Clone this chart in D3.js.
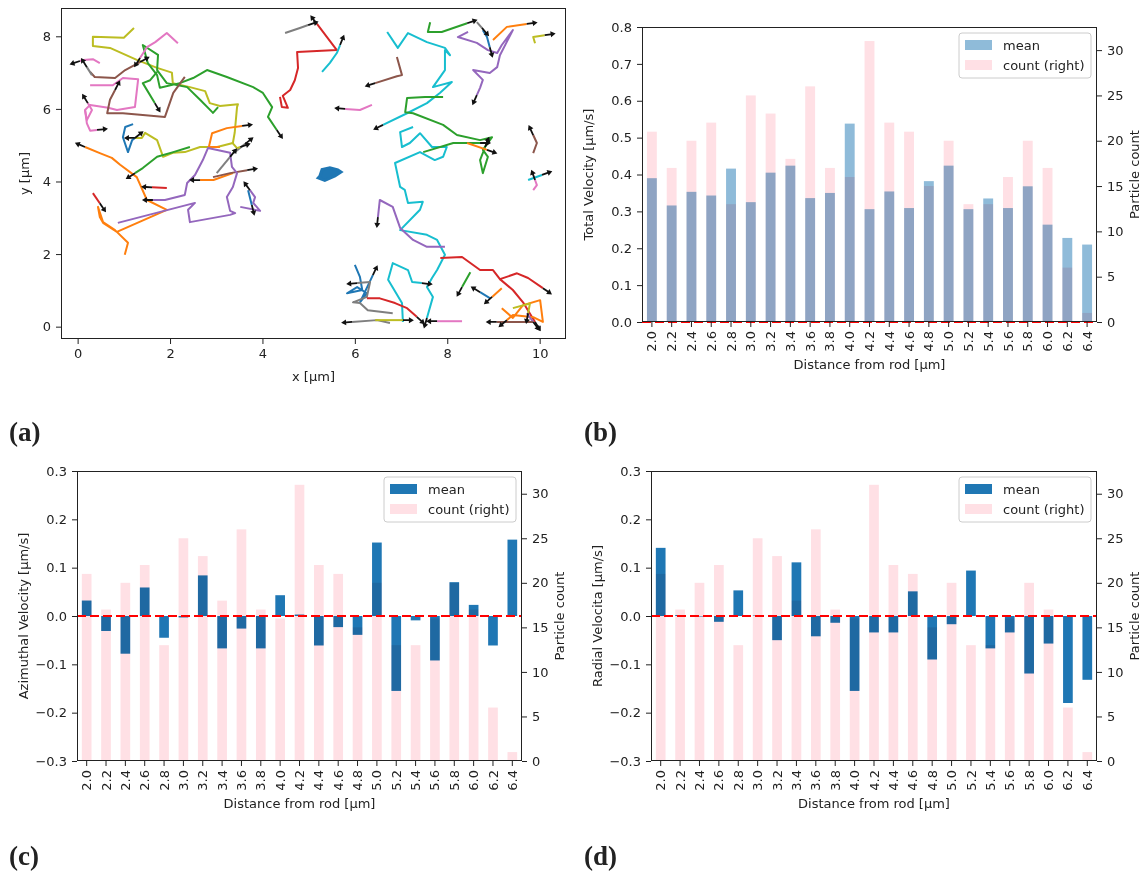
<!DOCTYPE html>
<html>
<head>
<meta charset="utf-8">
<script src="https://cdn.jsdelivr.net/npm/d3@7"></script>
<style>
body { margin: 0; background: #fff; }
svg text { font-family: "DejaVu Sans", sans-serif; fill: #222; }
</style>
</head>
<body>
<svg id="fig" width="1143" height="874"></svg>
<script>
// ---- data ----
const distances = ["2.0","2.2","2.4","2.6","2.8","3.0","3.2","3.4","3.6","3.8","4.0","4.2",
                   "4.4","4.6","4.8","5.0","5.2","5.4","5.6","5.8","6.0","6.2","6.4"];
const particleCount = [21,17,20,22,13,25,23,18,26,17,16,31,22,21,15,20,13,13,16,20,17,6,1];
const totalVelocity = [0.39,0.316,0.353,0.343,0.416,0.325,0.405,0.424,0.336,0.35,0.538,0.306,
                       0.354,0.309,0.382,0.424,0.306,0.335,0.309,0.368,0.264,0.228,0.21];
const azimuthalVelocity = [0.032,-0.031,-0.078,0.059,-0.045,-0.003,0.084,-0.067,-0.026,-0.067,0.043,0.003,
                           -0.061,-0.023,-0.039,0.152,-0.155,-0.009,-0.092,0.070,0.023,-0.061,0.158];
const radialVelocity = [0.141,0.002,-0.001,-0.012,0.053,0.001,-0.05,0.111,-0.042,-0.014,-0.155,-0.034,
                        -0.034,0.051,-0.09,-0.017,0.094,-0.067,-0.034,-0.119,-0.057,-0.18,-0.132];

// particle trajectories [x, y] in µm, and the tab10 colour index of each
const trajectories = [
  [[1.22,8.23],[1.00,7.96],[0.33,7.99],[0.33,7.73],[0.70,7.68],[1.28,7.35],[1.72,7.13],[2.04,7.0],[2.06,6.71],[2.43,6.6],[2.76,6.49],[2.86,6.16],[3.08,6.08],[3.47,6.13],[3.45,6.05],[3.40,5.35],[3.36,5.06],[3.02,4.95],[2.65,4.95],[2.32,4.81],[2.06,4.79],[1.85,4.68],[1.72,5.14],[1.46,5.34],[1.39,5.2],[1.24,5.2]],
  [[3.04,6.05],[2.93,5.89],[2.65,6.25],[2.37,6.60],[1.93,6.71],[1.72,7.07],[1.74,7.49],[1.41,7.76],[1.52,7.26],[1.72,6.93],[1.78,6.58],[2.21,6.71],[2.50,6.85],[2.80,7.07],[3.23,6.88],[3.80,6.60],[4.01,6.44],[4.21,6.05],[4.12,5.78],[4.31,5.42]],
  [[1.72,7.02],[1.57,6.79],[1.41,6.71],[1.67,6.16]],
  [[2.43,4.95],[2.07,4.81],[1.72,4.68],[1.41,4.37],[1.24,4.23]],
  [[2.17,7.81],[1.93,8.09],[1.68,7.84],[1.50,7.70],[1.35,7.40]],
  [[0.48,7.26],[0.33,7.37],[0.12,7.35],[0.05,7.32]],
  [[0.27,6.65],[0.76,6.65],[0.98,6.85],[1.31,6.82],[1.24,6.05],[0.85,5.97],[0.66,6.03],[0.27,6.11],[0.16,5.97],[0.20,5.69],[0.31,5.97],[0.22,6.16]],
  [[0.16,5.97],[0.20,5.60],[0.27,5.40],[0.42,5.42]],
  [[0.27,7.02],[0.37,6.88],[0.81,6.85],[1.03,7.07],[1.35,7.29]],
  [[2.32,6.88],[2.07,6.44],[1.89,5.78],[1.41,5.83],[0.98,5.88],[0.64,5.88],[0.70,6.25],[0.81,6.52]],
  [[1.20,5.58],[1.03,5.50],[0.98,5.22],[1.09,4.81],[1.18,5.14],[1.24,5.20]],
  [[1.02,1.98],[1.09,2.31],[0.81,2.66],[0.55,2.88],[0.44,3.30],[0.48,3.02],[0.55,2.86],[0.85,2.61],[1.93,3.22],[1.50,3.49],[1.28,4.12],[0.92,4.46],[0.74,4.65],[0.48,4.78],[0.16,4.95]],
  [[0.33,3.68],[0.48,3.40]],
  [[3.08,4.95],[2.84,4.95],[2.91,5.33],[3.23,5.47],[3.56,5.53]],
  [[3.36,4.23],[2.94,4.04],[2.65,4.04]],
  [[2.93,4.12],[3.30,4.23],[3.67,4.31]],
  [[3.37,4.78],[3.62,5.03]],
  [[3.01,4.23],[3.30,4.68]],
  [[3.34,5.08],[3.45,4.92],[3.52,4.95]],
  [[0.87,2.86],[2.54,3.41],[2.39,3.22],[2.43,2.88],[3.30,3.08],[3.41,3.13],[3.30,3.19],[3.23,3.57],[3.36,3.85],[3.45,4.23],[3.34,4.40],[3.30,4.79],[2.82,4.92],[2.71,4.59],[2.54,4.18],[2.37,3.96],[2.32,3.63],[1.89,3.49],[1.63,3.49]],
  [[3.52,3.30],[3.95,3.19],[3.80,3.41],[3.84,3.57],[3.73,3.76]],
  [[3.69,3.76],[3.77,3.35]],
  [[1.93,3.82],[1.61,3.84]],
  [[0.31,6.93],[0.20,7.15]],
  [[4.49,8.09],[4.81,8.23],[4.99,8.31]],
  [[4.38,6.33],[4.42,6.05],[4.55,6.03],[4.44,6.36],[4.60,6.52],[4.70,6.79],[4.77,7.13],[4.75,7.57],[5.61,7.62],[5.18,8.34]],
  [[5.29,7.02],[5.46,7.27],[5.61,7.54],[5.68,7.76]],
  [[6.91,7.43],[7.02,6.93],[6.91,6.90],[6.44,6.71]],
  [[6.37,6.11],[6.11,5.97],[5.79,6.00]],
  [[6.70,8.12],[6.93,7.68],[7.15,8.09],[7.56,7.84],[7.95,7.68],[8.06,7.48],[7.95,7.62],[7.95,7.07],[7.69,6.60],[8.10,6.74],[7.84,6.44],[7.56,6.16],[7.13,5.88],[6.61,5.56]],
  [[7.26,5.50],[6.98,5.36],[7.02,4.95],[7.19,5.06],[7.41,5.33],[7.67,4.95],[7.99,4.95],[7.91,4.68],[7.73,4.59],[7.41,4.81],[6.87,4.51],[6.98,3.85],[7.08,3.77],[7.15,3.41],[7.47,3.44],[7.41,3.22],[6.98,2.66],[7.56,2.53],[7.78,2.39],[7.95,1.98],[7.78,1.56],[7.67,1.34],[7.56,1.09],[7.69,0.82],[7.56,0.24]],
  [[7.04,0.13],[7.02,0.65],[6.72,1.29],[6.82,1.75],[7.15,1.56],[7.24,1.23],[7.45,1.20]],
  [[7.63,8.39],[7.58,8.12],[7.88,8.12],[8.43,8.36]],
  [[7.91,6.33],[7.52,6.33],[7.13,6.30],[7.09,5.91],[7.26,5.88],[7.91,5.56],[8.21,5.28],[8.71,5.14],[8.97,5.22],[8.77,4.87],[8.88,4.68],[8.77,4.23],[8.71,4.59],[8.82,4.95]],
  [[7.48,4.81],[8.13,5.06],[8.71,5.06]],
  [[8.43,5.06],[8.86,4.87]],
  [[8.45,8.12],[8.23,7.98],[8.64,7.82],[8.88,7.62],[9.08,7.54],[9.18,7.76],[9.42,8.17],[9.14,7.48],[9.08,7.15],[8.92,6.99],[8.56,7.07],[8.77,6.80],[8.71,6.58],[8.64,6.38]],
  [[8.99,7.90],[9.29,8.26],[9.72,8.34]],
  [[8.77,8.17],[8.86,7.98],[8.92,7.70]],
  [[8.64,8.39],[8.75,8.23]],
  [[9.90,7.81],[9.86,7.98],[10.11,8.03]],
  [[9.86,4.78],[9.94,5.06],[9.86,5.28]],
  [[9.75,4.04],[10.05,4.18]],
  [[9.86,3.76],[9.94,3.90],[9.90,4.04]],
  [[7.95,2.20],[7.56,2.20],[7.26,2.39],[6.98,2.72],[6.82,3.30],[6.54,3.49],[6.50,3.02]],
  [[7.85,1.89],[8.32,1.92],[8.71,1.56],[8.99,1.56],[9.14,1.31],[9.51,1.47],[9.75,1.34],[10.07,1.06]],
  [[9.14,1.31],[9.42,1.01],[9.64,0.67],[9.90,0.13]],
  [[8.50,1.50],[8.32,1.09]],
  [[9.18,1.06],[8.97,0.82]],
  [[8.93,0.78],[8.71,0.95]],
  [[9.18,0.51],[9.42,0.24],[9.64,0.59],[10.01,0.73],[10.07,0.13],[9.86,0.26],[9.42,0.32],[9.29,0.18]],
  [[9.42,0.51],[9.79,0.64],[9.75,0.37]],
  [[9.72,0.37],[9.86,0.13]],
  [[9.86,0.13],[9.07,0.13]],
  [[8.32,0.15],[7.78,0.15]],
  [[6.00,1.70],[6.11,1.37],[6.16,1.01],[5.83,0.92],[6.05,1.09],[6.26,0.92],[6.11,0.67],[6.39,1.42]],
  [[6.82,0.37],[6.28,0.45],[6.11,0.65],[5.96,0.67],[6.26,0.82],[6.33,1.23],[6.05,1.20]],
  [[6.76,0.10],[6.48,0.18],[5.94,0.13]],
  [[6.26,0.78],[6.54,0.78],[6.87,0.65],[7.13,0.51],[7.34,0.27]],
  [[6.44,0.18],[7.04,0.18]]
];
const trajectoryColor = [8,2,2,2,6,6,6,6,5,5,0,1,3,1,1,5,7,7,8,4,4,0,3,7,
                         7,3,9,5,6,9,9,9,2,2,2,1,4,1,0,7,8,5,9,6,4,3,3,2,1,0,1,8,4,5,6,0,7,7,3,8];
// the particle stuck near the rod (blue blob)
const stuckParticle = [[5.24,4.14],[5.29,4.33],[5.46,4.38],[5.63,4.32],[5.70,4.26],[5.57,4.15],[5.35,4.03],[5.21,4.10]];

const xTicksA = [0,2,4,6,8,10];
const yTicksA = [0,2,4,6,8];
const countTicks = [0,5,10,15,20,25,30];

const tab10 = d3.schemeCategory10;
const svg = d3.select("#fig");
const FONT = 13;

// style a d3 axis group the matplotlib way
function styleAxis(g) {
    g.select(".domain").remove();
    g.attr("font-family", "DejaVu Sans").attr("font-size", FONT);
    g.selectAll("line").attr("stroke", "#222");
    g.selectAll("text").attr("fill", "#222");
}

function frame(g, l, r, t, b) {
    g.append("rect")
        .attr("x", l + 0.5).attr("y", t + 0.5)
        .attr("width", r - l - 1).attr("height", b - t - 1)
        .attr("fill", "none").attr("stroke", "#222").attr("stroke-width", 1);
}

// ---------- panel (a): trajectories ----------
{
    const l = 61, r = 566, t = 8, b = 339;
    const x = d3.scaleLinear().domain([-0.36, 10.57]).range([l, r]);
    const y = d3.scaleLinear().domain([-0.34, 8.78]).range([b, t]);
    const g = svg.append("g");

    g.append("clipPath").attr("id", "clipA")
        .append("rect").attr("x", l).attr("y", t).attr("width", r - l).attr("height", b - t);

    const plot = g.append("g").attr("clip-path", "url(#clipA)");
    const line = d3.line().x(d => x(d[0])).y(d => y(d[1]));

    plot.selectAll("path.traj")
        .data(trajectories)
        .enter().append("path")
        .attr("class", "traj")
        .attr("d", line)
        .attr("fill", "none")
        .attr("stroke", (d, i) => tab10[trajectoryColor[i]])
        .attr("stroke-width", 2)
        .attr("stroke-linejoin", "round");

    plot.append("path")
        .attr("d", line(stuckParticle) + "Z")
        .attr("fill", tab10[0]).attr("stroke", tab10[0]).attr("stroke-width", 3);

    // quiver arrows at the last position of each trajectory
    plot.selectAll("path.arrow")
        .data(trajectories)
        .enter().append("path")
        .attr("class", "arrow")
        .attr("transform", d => {
            let n = d.length;
            let x1 = x(d[n - 2][0]), y1 = y(d[n - 2][1]);
            let x2 = x(d[n - 1][0]), y2 = y(d[n - 1][1]);
            let ang = Math.atan2(y2 - y1, x2 - x1) * 180 / Math.PI;
            return `translate(${x2},${y2}) rotate(${ang})`;
        })
        .attr("d", "M0,-0.9L6,-0.9L6,-3L11,0L6,3L6,0.9L0,0.9Z")
        .attr("fill", "#111");

    const xa = g.append("g").attr("transform", `translate(0,${b})`)
        .call(d3.axisBottom(x).tickValues(xTicksA).tickSize(5).tickPadding(5));
    styleAxis(xa);
    const ya = g.append("g").attr("transform", `translate(${l},0)`)
        .call(d3.axisLeft(y).tickValues(yTicksA).tickSize(5).tickPadding(5));
    styleAxis(ya);
    frame(g, l, r, t, b);

    g.append("text").attr("x", (l + r) / 2).attr("y", 381)
        .attr("text-anchor", "middle").attr("font-size", FONT).text("x [µm]");
    g.append("text").attr("transform", `translate(29,${(t + b) / 2}) rotate(-90)`)
        .attr("text-anchor", "middle").attr("font-size", FONT).text("y [µm]");
}

// ---------- panels (b), (c), (d): bars ----------
function barPanel(cfg) {
    const {l, r, t, b} = cfg;
    const g = svg.append("g");
    const x = d3.scaleBand().domain(distances).range([l, r]).paddingInner(0.5).paddingOuter(0.25);
    const y = d3.scaleLinear().domain(cfg.domain).range([b, t]);
    const y2 = d3.scaleLinear().domain([0, 32.55]).range([b, t]);

    g.selectAll("rect.mean")
        .data(cfg.means)
        .enter().append("rect")
        .attr("class", "mean")
        .attr("x", (d, i) => x(distances[i]))
        .attr("width", x.bandwidth())
        .attr("y", d => Math.min(y(d), y(0)))
        .attr("height", d => Math.abs(y(d) - y(0)))
        .attr("fill", cfg.meanColor);

    g.selectAll("rect.count")
        .data(particleCount)
        .enter().append("rect")
        .attr("class", "count")
        .attr("x", (d, i) => x(distances[i]))
        .attr("width", x.bandwidth())
        .attr("y", d => y2(d))
        .attr("height", d => y2(0) - y2(d))
        .attr("fill", "#ffe0e5")
        .style("mix-blend-mode", "multiply");

    g.append("line")
        .attr("x1", l).attr("x2", r)
        .attr("y1", y(0)).attr("y2", y(0))
        .attr("stroke", "#ff0000").attr("stroke-width", 2.2)
        .attr("stroke-dasharray", "9,4");

    const xa = g.append("g").attr("transform", `translate(0,${b})`)
        .call(d3.axisBottom(x).tickSize(5).tickPadding(4));
    styleAxis(xa);
    xa.selectAll("text")
        .attr("transform", "rotate(-90)")
        .attr("x", -9).attr("y", 0).attr("dy", "0.35em")
        .attr("text-anchor", "end");

    const ya = g.append("g").attr("transform", `translate(${l},0)`)
        .call(d3.axisLeft(y).tickValues(cfg.ticks).tickFormat(d3.format(".1f")).tickSize(5).tickPadding(5));
    styleAxis(ya);
    const yb = g.append("g").attr("transform", `translate(${r},0)`)
        .call(d3.axisRight(y2).tickValues(countTicks).tickSize(5).tickPadding(5));
    styleAxis(yb);
    frame(g, l, r, t, b);

    g.append("text").attr("x", (l + r) / 2).attr("y", b + 47)
        .attr("text-anchor", "middle").attr("font-size", FONT).text("Distance from rod [µm]");
    g.append("text").attr("transform", `translate(${l - 49},${(t + b) / 2}) rotate(-90)`)
        .attr("text-anchor", "middle").attr("font-size", FONT).text(cfg.yLabel);
    g.append("text").attr("transform", `translate(${r + 42},${(t + b) / 2}) rotate(-90)`)
        .attr("text-anchor", "middle").attr("font-size", FONT).text("Particle count");

    // legend
    const lg = g.append("g").attr("transform", `translate(${r - 138},${t + 6})`);
    lg.append("rect").attr("width", 132).attr("height", 45).attr("rx", 3)
        .attr("fill", "#fff").attr("fill-opacity", 0.8).attr("stroke", "#ccc");
    const entries = [["mean", cfg.meanColor], ["count (right)", "#ffe0e5"]];
    entries.forEach(([name, col], i) => {
        lg.append("rect").attr("x", 6).attr("y", 7 + i * 20).attr("width", 27).attr("height", 10).attr("fill", col);
        lg.append("text").attr("x", 44).attr("y", 17 + i * 20).attr("font-size", FONT).text(name);
    });
}

barPanel({l: 642, r: 1097, t: 27, b: 322, means: totalVelocity, domain: [0, 0.8],
          ticks: d3.range(0, 0.81, 0.1), meanColor: "rgb(143,187,217)", yLabel: "Total Velocity [µm/s]"});
barPanel({l: 77, r: 522, t: 471, b: 761, means: azimuthalVelocity, domain: [-0.3, 0.3],
          ticks: d3.range(-0.3, 0.31, 0.1), meanColor: "#1f77b4", yLabel: "Azimuthal Velocity [µm/s]"});
barPanel({l: 651, r: 1097, t: 471, b: 761, means: radialVelocity, domain: [-0.3, 0.3],
          ticks: d3.range(-0.3, 0.31, 0.1), meanColor: "#1f77b4", yLabel: "Radial Velocita [µm/s]"});

// panel letters
[["(a)", 9, 441], ["(b)", 584, 441], ["(c)", 9, 865], ["(d)", 584, 865]].forEach(([s, px, py]) => {
    svg.append("text").attr("x", px).attr("y", py)
        .style("font-family", "'Liberation Serif', serif").style("font-weight", "bold")
        .attr("font-size", 27).text(s);
});
</script>
</body>
</html>
